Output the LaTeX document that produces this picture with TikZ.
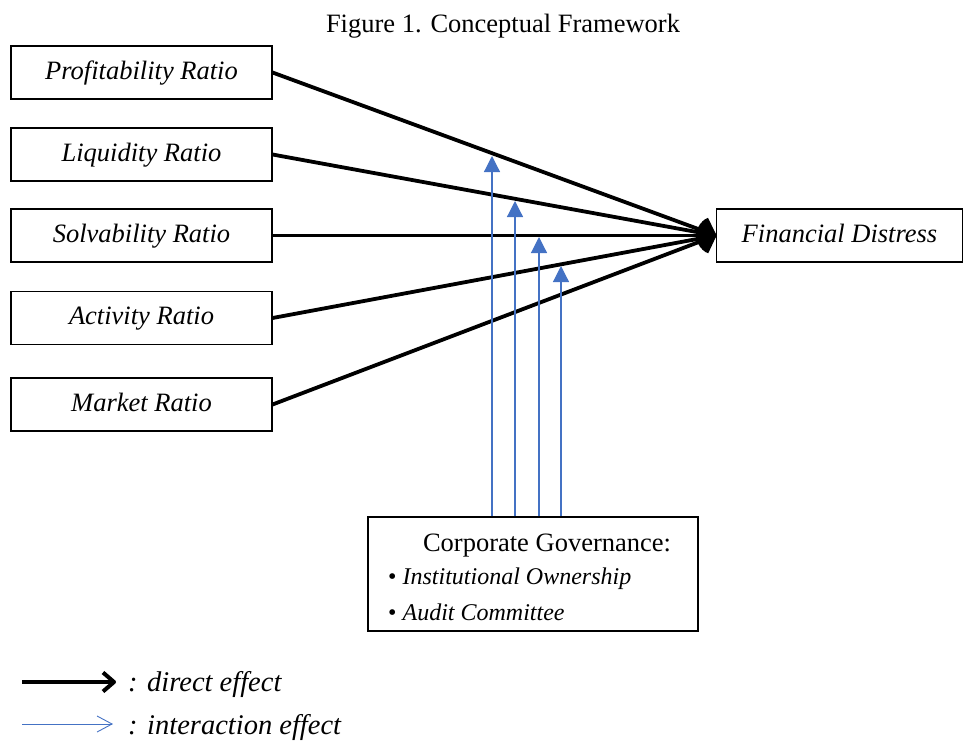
\documentclass[tikz,border=0pt]{standalone}
\usepackage{fontspec}
\setmainfont{Liberation Serif}
\usetikzlibrary{arrows.meta}
\definecolor{blueA}{HTML}{4472C4}
\begin{document}
\begin{tikzpicture}[x=1pt,y=-1pt,
  box/.style={draw,line width=1.1pt,minimum width=261pt,minimum height=53pt,inner sep=0pt,text height=18pt,text depth=5pt,font=\fontsize{26.5}{30}\selectfont\itshape},
  direct/.style={line width=3.8pt,line join=round,-{Straight Barb[length=13pt,width=25pt,line join=round]}},
  inter/.style={blueA,line width=1.2pt,-{Triangle[length=16pt,width=16pt]}},
  txt/.style={inner sep=0pt,anchor=west}]
\useasboundingbox (0,0) rectangle (963,742);
\node[inner sep=0pt,font=\fontsize{26.5}{30}\selectfont] (title) at (503,26) {Figure 1. Conceptual Framework};
\node[box] (p) at (141.5,72.5) {Profitability Ratio};
\node[box] (l) at (141.5,154.5) {Liquidity Ratio};
\node[box] (s) at (141.5,235.5) {Solvability Ratio};
\node[box] (a) at (141.5,318) {Activity Ratio};
\node[box] (m) at (141.5,404.5) {Market Ratio};
\node[box,minimum width=246pt] (fd) at (839.5,235.5) {Financial Distress};
\node[draw,line width=1.1pt,minimum width=330pt,minimum height=114pt,inner sep=0pt] (cg) at (533,574) {};
\node[inner sep=0pt,font=\fontsize{26.5}{30}\selectfont] (cgt) at (547,546) {Corporate Governance:};
\node[txt,font=\fontsize{24}{28}\selectfont] (io) at (388,579) {\textbullet\ \textit{Institutional Ownership}};
\node[txt,font=\fontsize{24}{28}\selectfont] (ac) at (388,612) {\textbullet\ \textit{Audit Committee}};
\foreach \n in {p,l,s,a,m} \draw[direct] (\n.east) -- (fd.west);
\coordinate (t1) at (492,156);
\coordinate (t2) at (515,201);
\coordinate (t3) at (539,237);
\coordinate (t4) at (561,266);
\foreach \t in {t1,t2,t3,t4} \draw[inter] (cg.north -| \t) -- (\t);
% legend
\coordinate (l1a) at (22,682);
\coordinate (l1b) at (116,682);
\coordinate (l2a) at (22,724);
\coordinate (l2b) at (113,724);
\draw[line width=4pt,line join=round,-{Straight Barb[length=11pt,width=19pt,line join=round]}] (l1a) -- (l1b);
\draw[blueA,line width=0.9pt,-{Straight Barb[length=15pt,width=16pt]}] (l2a) -- (l2b);
\node[txt,font=\fontsize{28.5}{32}\selectfont\itshape] (le1) at (128,684) {: direct effect};
\node[txt,font=\fontsize{28.5}{32}\selectfont\itshape] (le2) at (128,727) {: interaction effect};
\end{tikzpicture}
\end{document}
